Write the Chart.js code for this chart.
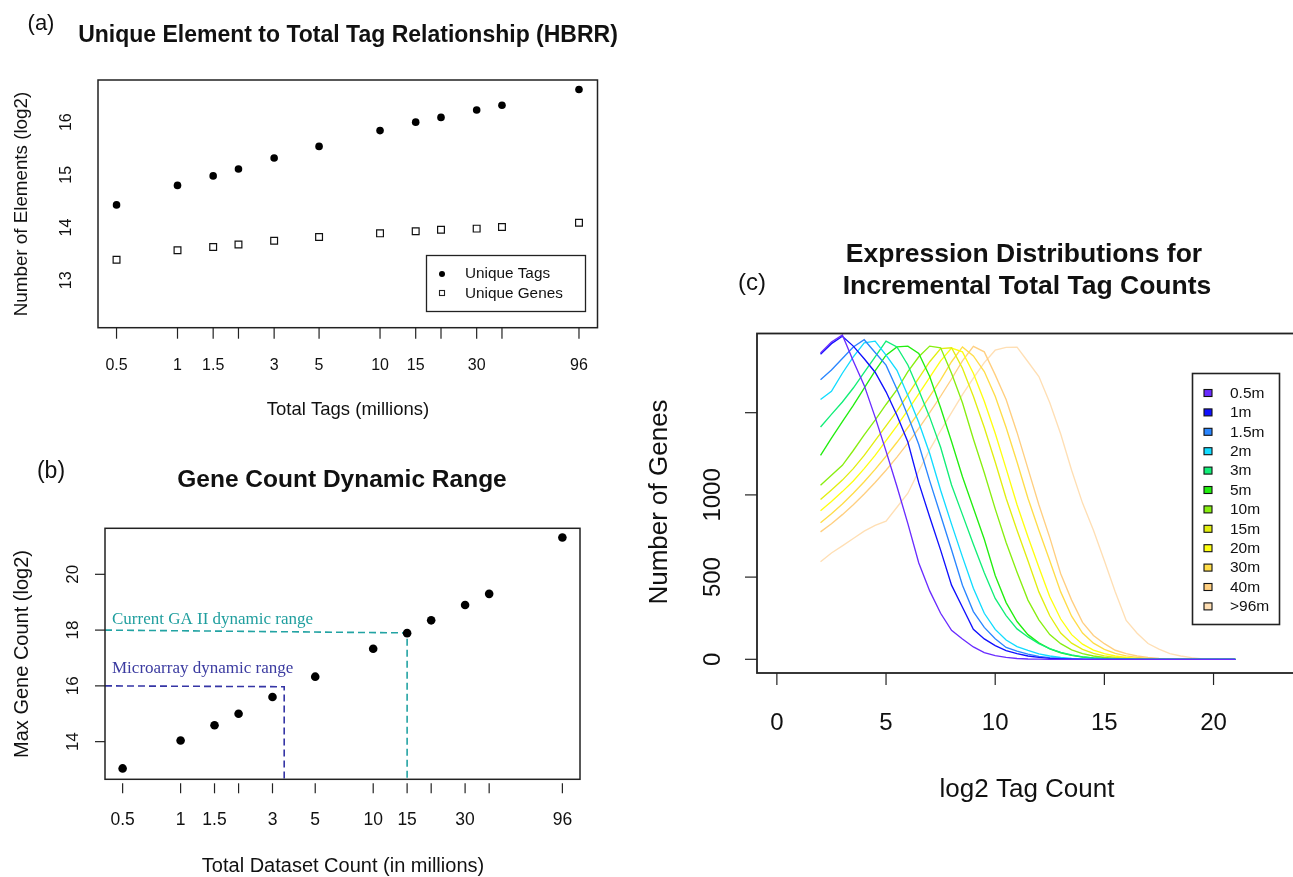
<!DOCTYPE html>
<html><head><meta charset="utf-8">
<script src="https://cdn.jsdelivr.net/npm/chart.js@4.4.0/dist/chart.umd.min.js"></script>
<style>
html,body{margin:0;padding:0;background:#fff;overflow:hidden;width:1293px;height:877px;}
.layer{position:absolute;left:0;top:0;}
</style></head><body>
<div class="layer"><canvas id="ca" width="1293" height="877"></canvas></div>
<div class="layer"><canvas id="cb" width="1293" height="877"></canvas></div>
<div class="layer"><canvas id="cc" width="1310" height="877"></canvas></div>
<script>
// ---------- data: panel (a) ----------
const totalTags   = [0.5, 1, 1.5, 2, 3, 5, 10, 15, 20, 30, 40, 96];
const uniqueTags  = [14.43, 14.80, 14.98, 15.11, 15.32, 15.54, 15.84, 16.00, 16.09, 16.23, 16.32, 16.62];
const uniqueGenes = [13.39, 13.57, 13.63, 13.68, 13.75, 13.82, 13.89, 13.93, 13.96, 13.98, 14.01, 14.09];
const logTickValues = [0.5, 1, 1.5, 2, 3, 5, 10, 15, 20, 30, 40, 96];
const logTickLabels = ['0.5', '1', '1.5', '', '3', '5', '10', '15', '', '30', '', '96'];
const yTicksA = [13, 14, 15, 16];
// ---------- data: panel (b) ----------
const maxGeneCount = [13.04, 14.04, 14.59, 15.00, 15.60, 16.33, 17.33, 17.89, 18.35, 18.90, 19.30, 21.32];
const yTicksB = [14, 16, 18, 20];
const gaRangeX = [0.405, 15, 15];
const gaRangeY = [18, 17.9, 12.65];
const microRangeX = [0.405, 3.45, 3.45];
const microRangeY = [16, 15.97, 12.65];
// ---------- data: panel (c) ----------
const log2TagCount = [2,2.5,3,3.5,4,4.5,5,5.5,6,6.5,7,7.5,8,8.5,9,9.5,10,10.5,11,11.5,12,12.5,13,13.5,14,14.5,15,15.5,16,16.5,17,17.5,18,18.5,19,19.5,20,20.5,21];
const seriesNames = ['0.5m','1m','1.5m','2m','3m','5m','10m','15m','20m','30m','40m','>96m'];
const seriesColors = ['#6a2cff','#1010ff','#2a86ff','#12dcff','#12ee78','#22ee10','#88ee10','#e2ee10','#ffff10','#ffdd48','#ffcf80','#ffdfb4'];
const g05  = [1863,1930,1972,1815,1666,1473,1266,1051,825,586,416,280,176,124,75,41,22,12,5,2,1,0,0,0,0,0,0,0,0,0,0,0,0,0,0,0,0,0,0];
const g1   = [1855,1920,1965,1905,1828,1746,1627,1485,1322,1073,866,664,451,317,183,124,83,53,34,20,12,6,3,1,0,0,0,0,0,0,0,0,0,0,0,0,0,0,0];
const g15  = [1701,1760,1830,1900,1944,1866,1789,1643,1481,1306,1085,876,666,451,290,194,125,72,50,31,18,10,5,2,1,0,0,0,0,0,0,0,0,0,0,0,0,0,0];
const g2   = [1580,1630,1740,1840,1925,1935,1850,1758,1605,1440,1252,1028,822,623,432,280,182,117,77,54,33,20,11,5,2,1,0,0,0,0,0,0,0,0,0,0,0,0,0];
const g3   = [1413,1490,1565,1650,1745,1840,1935,1900,1790,1636,1473,1290,1060,880,700,526,370,266,185,136,95,65,42,26,15,8,4,2,1,0,0,0,0,0,0,0,0,0,0];
const g5   = [1241,1345,1445,1545,1650,1755,1850,1900,1905,1860,1720,1530,1325,1110,920,730,510,345,230,150,100,64,40,24,14,8,4,2,1,0,0,0,0,0,0,0,0,0,0];
const g10  = [1059,1120,1180,1270,1365,1455,1550,1640,1750,1840,1905,1895,1740,1560,1340,1135,915,710,530,360,240,150,95,58,35,20,11,6,3,1,0,0,0,0,0,0,0,0,0];
const g15m = [972,1030,1090,1160,1240,1330,1420,1510,1610,1710,1810,1890,1895,1770,1600,1410,1200,980,785,600,410,265,160,98,60,36,21,12,6,3,1,0,0,0,0,0,0,0,0];
const g20  = [903,960,1020,1085,1160,1240,1330,1420,1515,1615,1715,1815,1893,1870,1740,1570,1375,1160,940,745,560,380,245,150,92,56,34,20,11,6,3,1,0,0,0,0,0,0,0];
const g30  = [830,885,945,1010,1080,1155,1235,1320,1410,1500,1600,1700,1810,1900,1845,1750,1600,1410,1200,980,785,600,410,262,160,98,60,36,21,12,6,3,1,0,0,0,0,0,0];
const g40  = [775,825,880,940,1005,1075,1150,1230,1315,1405,1500,1600,1705,1815,1903,1870,1730,1580,1380,1160,940,740,520,360,225,145,95,55,34,20,12,6,3,1,0,0,0,0,0];
const g96  = [593,647,690,735,780,815,840,925,1010,1145,1275,1390,1500,1610,1710,1805,1880,1897,1899,1810,1720,1560,1370,1150,950,785,600,410,236,159,96,62,34,20,10,3,1,0,0];
const seriesValues = [g05, g1, g15, g2, g3, g5, g10, g15m, g20, g30, g40, g96];
const xTicksC = [0, 5, 10, 15, 20];
const yTicksC = [0, 500, 1000, 1500];
const yLabelsC = ['0', '500', '1000', ''];

// ---------- helpers ----------
const SANS = '"Liberation Sans", Arial, Helvetica, sans-serif';
const SERIF = '"Liberation Serif", "Times New Roman", serif';
function txt(ctx, s, x, y, size, opts) {
  opts = opts || {};
  ctx.save();
  ctx.font = (opts.bold ? 'bold ' : '') + size + 'px ' + (opts.family || SANS);
  ctx.fillStyle = opts.color || '#111';
  ctx.textAlign = opts.align || 'center';
  ctx.textBaseline = opts.baseline || 'middle';
  ctx.translate(x, y);
  if (opts.rot) ctx.rotate(opts.rot);
  ctx.fillText(s, 0, 0);
  ctx.restore();
}
function pts(xs, ys) { return xs.map((x, i) => ({x: x, y: ys[i]})); }

function framePlugin(o) {
  return {
    id: 'frame' + o.name,
    afterDatasetsDraw(chart) {
      const ctx = chart.ctx, a = chart.chartArea, xs = chart.scales.x, ys = chart.scales.y;
      ctx.save();
      ctx.strokeStyle = '#222';
      ctx.lineWidth = o.boxWidth;
      ctx.strokeRect(a.left, a.top, a.right - a.left, a.bottom - a.top);
      ctx.lineWidth = 1.2;
      o.xTicks.forEach((v, i) => {
        const px = xs.getPixelForValue(v);
        ctx.beginPath();
        ctx.moveTo(px, a.bottom + o.xTickGap);
        ctx.lineTo(px, a.bottom + o.xTickGap + o.tickLen);
        ctx.stroke();
        if (o.xLabels[i]) txt(ctx, o.xLabels[i], px, o.xLabelY, o.tickSize);
      });
      o.yTicks.forEach((v, i) => {
        const py = ys.getPixelForValue(v);
        if (o.yTickMarks) {
          ctx.beginPath();
          ctx.moveTo(a.left - o.yTickGap, py);
          ctx.lineTo(a.left - o.yTickGap - o.tickLen, py);
          ctx.stroke();
        }
        if (o.yLabels[i]) txt(ctx, o.yLabels[i], o.yLabelX, py, o.yTickSize || o.tickSize, {rot: -Math.PI / 2});
      });
      ctx.restore();
      if (o.extra) o.extra(chart, ctx, a, xs, ys);
    }
  };
}

const baseOpts = (pad, xScale, yScale) => ({
  responsive: false, animation: false, devicePixelRatio: 1,
  layout: {padding: pad},
  plugins: {legend: {display: false}, tooltip: {enabled: false}, title: {display: false}},
  events: [],
  scales: {x: xScale, y: yScale}
});

// ---------- panel (a) ----------
new Chart(document.getElementById('ca'), {
  type: 'scatter',
  data: {datasets: [
    {data: pts(totalTags, uniqueTags), pointStyle: 'circle', pointRadius: 3.8, backgroundColor: '#000', borderColor: '#000', borderWidth: 0},
    {data: pts(totalTags, uniqueGenes), pointStyle: 'rect', pointRadius: 4.8, backgroundColor: '#fff', borderColor: '#111', borderWidth: 1.2}
  ]},
  options: baseOpts({left: 98, top: 80, right: 1293 - 597.5, bottom: 877 - 327.7},
    {type: 'logarithmic', display: false, min: 0.405, max: 118.5},
    {type: 'linear', display: false, min: 12.10, max: 16.80}),
  plugins: [framePlugin({
    name: 'A', boxWidth: 1.5, xTicks: logTickValues, xLabels: logTickLabels, xTickGap: 0, tickLen: 11,
    xLabelY: 366, tickSize: 16, yTicks: yTicksA, yLabels: yTicksA.map(String), yTickMarks: false,
    yTickGap: 0, yLabelX: 67,
    extra(chart, ctx) {
      txt(ctx, '(a)', 41, 24, 22);
      txt(ctx, 'Unique Element to Total Tag Relationship (HBRR)', 348, 36, 23, {bold: true});
      txt(ctx, 'Total Tags (millions)', 348, 410, 18.5);
      txt(ctx, 'Number of Elements (log2)', 22, 204, 18.8, {rot: -Math.PI / 2});
      // legend
      ctx.save();
      ctx.strokeStyle = '#222'; ctx.lineWidth = 1.3;
      ctx.strokeRect(426.5, 255.5, 159, 56);
      ctx.fillStyle = '#000';
      ctx.beginPath(); ctx.arc(442, 274, 3, 0, Math.PI * 2); ctx.fill();
      ctx.lineWidth = 1.1; ctx.strokeRect(439.5, 290.5, 5, 5);
      ctx.restore();
      txt(ctx, 'Unique Tags', 465, 274, 15.3, {align: 'left'});
      txt(ctx, 'Unique Genes', 465, 294, 15.3, {align: 'left'});
    }
  })]
});

// ---------- panel (b) ----------
new Chart(document.getElementById('cb'), {
  type: 'scatter',
  data: {datasets: [
    {data: pts(totalTags, maxGeneCount), pointStyle: 'circle', pointRadius: 4.3, backgroundColor: '#000', borderColor: '#000', borderWidth: 0},
    {data: pts(gaRangeX, gaRangeY), showLine: true, pointRadius: 0, borderColor: '#22a3a3', borderWidth: 1.6, borderDash: [7, 4]},
    {data: pts(microRangeX, microRangeY), showLine: true, pointRadius: 0, borderColor: '#3535a5', borderWidth: 1.6, borderDash: [7, 4]}
  ]},
  options: baseOpts({left: 105, top: 528.3, right: 1293 - 580, bottom: 877 - 779.3},
    {type: 'logarithmic', display: false, min: 0.405, max: 118.5},
    {type: 'linear', display: false, min: 12.65, max: 21.65}),
  plugins: [framePlugin({
    name: 'B', boxWidth: 1.5, xTicks: logTickValues, xLabels: logTickLabels, xTickGap: 4, tickLen: 10,
    xLabelY: 820, tickSize: 17.5, yTickSize: 17, yTicks: yTicksB, yLabels: yTicksB.map(String), yTickMarks: true,
    yTickGap: 0, yLabelX: 73.5,
    extra(chart, ctx) {
      txt(ctx, '(b)', 51, 472, 23);
      txt(ctx, 'Gene Count Dynamic Range', 342, 480, 24.5, {bold: true});
      txt(ctx, 'Total Dataset Count (in millions)', 343, 866, 20);
      txt(ctx, 'Max Gene Count (log2)', 22.5, 654, 20, {rot: -Math.PI / 2});
      txt(ctx, 'Current GA II dynamic range', 112, 624, 17, {family: SERIF, align: 'left', baseline: 'alphabetic', color: '#1f9e9e'});
      txt(ctx, 'Microarray dynamic range', 112, 673, 17, {family: SERIF, align: 'left', baseline: 'alphabetic', color: '#3b3ba0'});
    }
  })]
});

// ---------- panel (c) ----------
new Chart(document.getElementById('cc'), {
  type: 'scatter',
  data: {datasets: seriesValues.map((vals, k) => ({
    label: seriesNames[k], data: pts(log2TagCount, vals), showLine: true, pointRadius: 0,
    borderColor: seriesColors[k], borderWidth: 1.35, tension: 0
  }))},
  options: baseOpts({left: 757, top: 333.5, right: 10, bottom: 877 - 673},
    {type: 'linear', display: false, min: -0.91, max: 23.96},
    {type: 'linear', display: false, min: -83.3, max: 1981.7}),
  plugins: [framePlugin({
    name: 'C', boxWidth: 1.8, xTicks: xTicksC, xLabels: xTicksC.map(String), xTickGap: 0, tickLen: 12,
    xLabelY: 723, tickSize: 24, yTicks: yTicksC, yLabels: yLabelsC, yTickMarks: true,
    yTickGap: 0, yLabelX: 713,
    extra(chart, ctx) {
      txt(ctx, '(c)', 752, 283, 24);
      txt(ctx, 'Expression Distributions for', 1024, 255, 26.5, {bold: true});
      txt(ctx, 'Incremental Total Tag Counts', 1027, 287, 26.5, {bold: true});
      txt(ctx, 'log2 Tag Count', 1027, 790, 26);
      txt(ctx, 'Number of Genes', 660, 502, 26, {rot: -Math.PI / 2});
      ctx.save();
      ctx.fillStyle = '#fff';
      ctx.fillRect(1192, 373, 88, 252);
      ctx.strokeStyle = '#222'; ctx.lineWidth = 1.6;
      ctx.strokeRect(1192.5, 373.5, 87, 251);
      seriesNames.forEach((nm, k) => {
        const cy = 393.5 + k * 19.4;
        ctx.fillStyle = seriesColors[k];
        ctx.fillRect(1204, cy - 4, 8, 7);
        ctx.strokeStyle = '#111'; ctx.lineWidth = 1.1;
        ctx.strokeRect(1204, cy - 4, 8, 7);
        txt(ctx, nm, 1230, cy, 15.5, {align: 'left'});
      });
      ctx.restore();
    }
  })]
});
</script>
</body></html>
